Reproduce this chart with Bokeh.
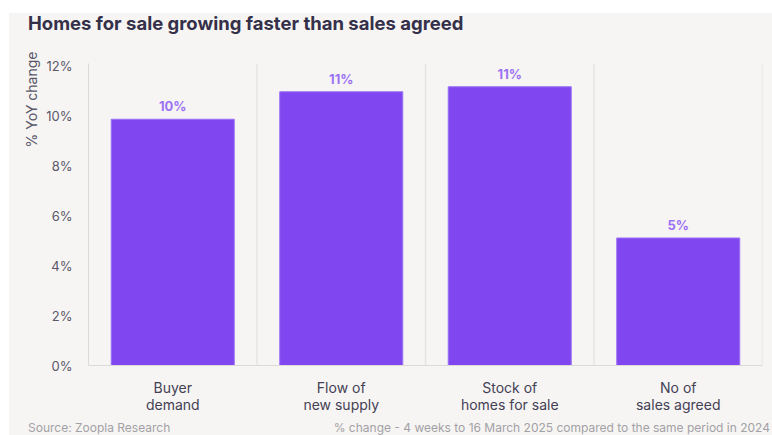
from bokeh.plotting import figure
from bokeh.models import ColumnDataSource, Span, FixedTicker, Range1d, Title, Div
from bokeh.layouts import column
from bokeh.core.properties import value
from bokeh.embed import file_html
from bokeh.resources import INLINE

categories = ["Buyer\ndemand", "Flow of\nnew supply", "Stock of\nhomes for sale", "No of\nsales agreed"]
values = [9.85, 10.95, 11.15, 5.1]
labels = ["10%", "11%", "11%", "5%"]
y_ticks = [0, 2, 4, 6, 8, 10, 12]
title_text = "Homes for sale growing faster than sales agreed"
y_label = "% YoY change"
source_text = "Source: Zoopla Research"
note_text = "% change - 4 weeks to 16 March 2025 compared to the same period in 2024"

BG = "#f6f5f3"
FONT = "Inter"

src = ColumnDataSource(dict(cat=categories, val=values, lab=labels))

header = Div(
    text=(f'<div style="font-family:{FONT};font-size:18.5px;font-weight:bold;color:#35304a;'
          f'line-height:20px;padding-left:19px;padding-top:0px;white-space:nowrap;">{title_text}</div>'),
    width=763, height=30, margin=0, styles={"background-color": BG})

p = figure(x_range=categories, y_range=Range1d(0, 12.08), width=763, height=377,
           output_backend="svg", toolbar_location=None,
           min_border_left=79, min_border_right=10, min_border_top=20, min_border_bottom=55)
p.background_fill_color = BG
p.border_fill_color = BG
p.outline_line_color = None

p.add_layout(Title(text=y_label, align="right", text_font=FONT, text_font_size="14px",
                   text_font_style="normal", text_color="#5b586a", standoff=8, offset=-12), "left")

p.vbar(x="cat", top="val", width=0.73, source=src, fill_color="#8047f0", line_color="#9a70f5", line_width=1)
p.text(x="cat", y="val", text="lab", source=src, text_align="center", text_baseline="bottom",
       y_offset=-5, text_font=value(FONT), text_font_size="13px", text_font_style="bold",
       text_color="#9c72f3")

p.xgrid.grid_line_color = None
p.ygrid.grid_line_color = None
for loc in [1, 2, 3, 4]:
    p.add_layout(Span(location=loc, dimension="height", line_color="#e6e4e2", line_width=1.5))

p.yaxis.ticker = FixedTicker(ticks=y_ticks)
p.yaxis.major_label_overrides = {t: f"{t}%" for t in y_ticks}
p.yaxis.major_tick_line_color = None
p.yaxis.minor_tick_line_color = None
p.yaxis.axis_line_color = "#dcdad8"
p.yaxis.major_label_text_font = FONT
p.yaxis.major_label_text_font_size = "13px"
p.yaxis.major_label_text_color = "#5b586a"
p.yaxis.major_label_standoff = 10

p.xaxis.major_tick_line_color = None
p.xaxis.axis_line_color = "#dcdad8"
p.xaxis.major_label_text_font = FONT
p.xaxis.major_label_text_font_size = "14px"
p.xaxis.major_label_text_color = "#444155"
p.xaxis.major_label_standoff = 7
p.xaxis.major_label_text_line_height = 1.05

footer = Div(
    text=(f'<div style="display:flex;justify-content:space-between;width:761px;'
          f'font-family:{FONT};font-size:12px;color:#a3a1a6;line-height:15px;white-space:nowrap;">'
          f'<span style="padding-left:19px">{source_text}</span>'
          f'<span>{note_text}</span></div>'),
    width=763, height=15, margin=0, styles={"background-color": BG})

layout = column(header, p, footer, margin=(13, 0, 0, 9), spacing=0, styles={"background-color": BG})

open("out.html", "w").write(file_html(layout, INLINE))
